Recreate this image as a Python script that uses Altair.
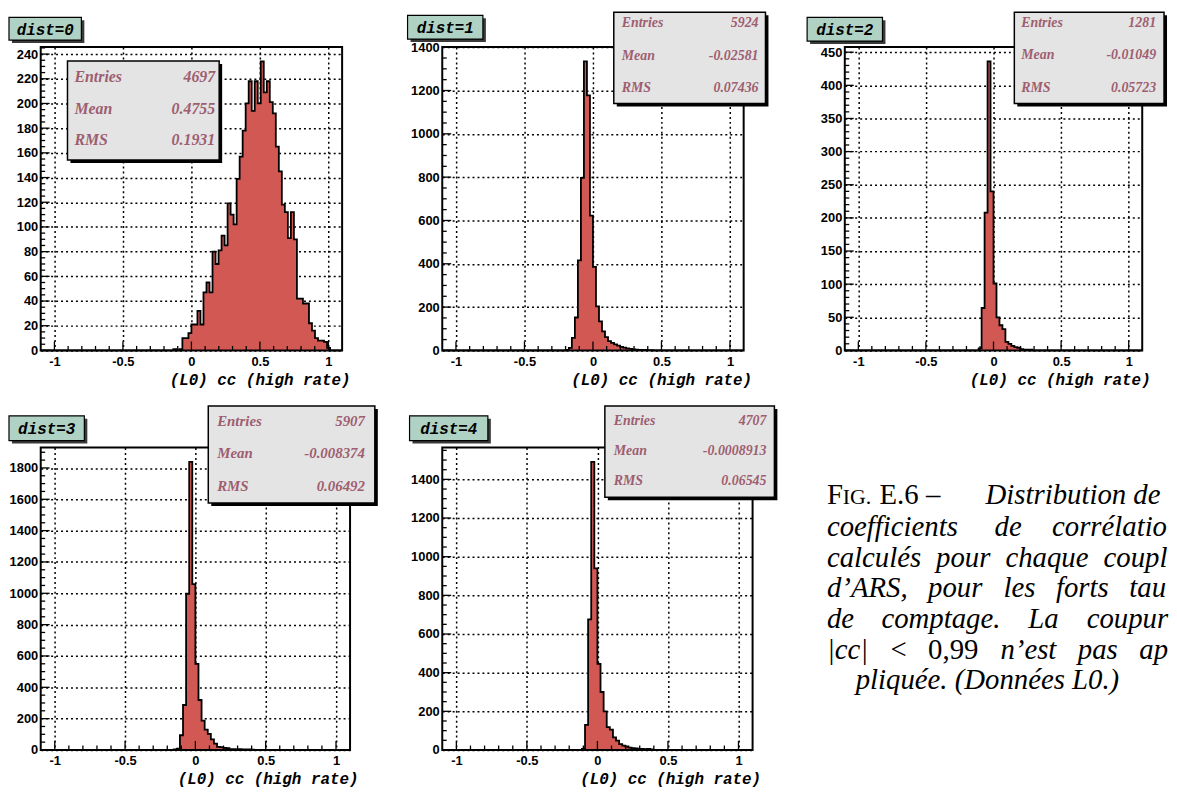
import altair as alt
import numpy as np
import pandas as pd

# ---------------- data ----------------
BIN_WIDTH = 0.022
X_MIN, X_MAX = -1.1, 1.1
N_BINS = 100

panel_titles = ["dist=0", "dist=1", "dist=2", "dist=3", "dist=4"]
first_edges = [-0.132, -0.198, -0.110, -0.154, -0.110]

counts_dist0 = [1, 0, 1, 10, 10, 14, 21, 21, 32, 21, 47, 55, 47, 80, 70, 81, 93, 85,
                119, 110, 102, 139, 157, 178, 200, 218, 194, 218, 200, 234, 209, 218,
                201, 192, 165, 145, 118, 112, 91, 112, 90, 42, 42, 38, 38, 22, 16, 10,
                8, 8, 7, 2]
counts_dist1 = [3, 12, 58, 152, 416, 797, 1334, 1178, 622, 386, 203, 134, 88, 61, 43,
                35, 28, 22, 16, 13, 9, 7, 5, 4, 3, 2, 2, 1, 1]
counts_dist2 = [3, 64, 208, 436, 240, 101, 50, 38, 32, 13, 10, 7, 5, 4, 2, 1, 1, 1]
counts_dist3 = [3, 8, 94, 287, 997, 1838, 1058, 550, 319, 187, 130, 103, 68, 40, 20, 18,
                14, 12, 6, 5, 4, 6, 4, 3, 4, 2]
counts_dist4 = [5, 130, 676, 1490, 940, 446, 300, 200, 118, 105, 65, 48, 30, 22, 18, 12,
                10, 8, 6, 5, 4, 5, 3, 1]
all_counts = [counts_dist0, counts_dist1, counts_dist2, counts_dist3, counts_dist4]

stat_names = ["Entries", "Mean", "RMS"]
entries = ["4697", "5924", "1281", "5907", "4707"]
means = ["0.4755", "-0.02581", "-0.01049", "-0.008374", "-0.0008913"]
rms_values = ["0.1931", "0.07436", "0.05723", "0.06492", "0.06545"]

x_tick_values = [-1, -0.5, 0, 0.5, 1]
x_minor_values = [-0.9, -0.8, -0.7, -0.6, -0.4, -0.3, -0.2, -0.1,
                  0.1, 0.2, 0.3, 0.4, 0.6, 0.7, 0.8, 0.9]
y_label_steps = [20, 200, 50, 200, 200]
y_minor_steps = [5, 50, 10, 50, 50]
x_title = "(L0) cc (high rate)"

# ---------------- styles ----------------
HIST_FILL = "#d25854"
STAT_FILL = "#e4e4e4"
STAT_TEXT = "#9e5e70"
LABEL_FILL = "#b0d2c4"
TICK_FONT = "Liberation Sans"
MONO = "Liberation Mono"
SERIF = "Liberation Serif"

ONE = pd.DataFrame({"k": [0]})


def hist_frame(first_edge, counts):
    full = np.zeros(N_BINS)
    k0 = int(round((first_edge - X_MIN) / BIN_WIDTH))
    full[k0:k0 + len(counts)] = counts
    edges = np.round(X_MIN + np.arange(N_BINS + 1) * BIN_WIDTH, 4)
    return pd.DataFrame({"x": edges, "y": np.append(full, 0.0)})


def box(x1, x2, y1, y2, **style):
    return alt.Chart(ONE).mark_rect(**style).encode(
        x=alt.value(x1), x2=alt.value(x2), y=alt.value(y1), y2=alt.value(y2))


def txt(text, x, y, **style):
    return alt.Chart(ONE).mark_text(text=text, **style).encode(
        x=alt.value(x), y=alt.value(y))


def panel(i, W, H, sbox, srows, sleft, sright, sfont, lbox, extra=()):
    df = hist_frame(first_edges[i], all_counts[i])
    ymax = float(df["y"].max()) * 1.05
    xs = alt.Scale(domain=[X_MIN, X_MAX], nice=False, zero=False)
    ys = alt.Scale(domain=[0, ymax], nice=False, zero=False)
    step = y_label_steps[i]
    y_major = [float(v) for v in range(0, int(ymax) + 1, step)]
    y_minor = [float(v) for v in range(0, int(ymax) + 1, y_minor_steps[i]) if v % step != 0]

    xaxis = alt.Axis(values=x_tick_values, labelExpr="'' + datum.value",
                     grid=True, gridDash=[2, 3], gridColor="black", gridWidth=1.5,
                     gridOpacity=1, ticks=False, domain=False, labelFlush=False,
                     labelOverlap=False, labelFont=TICK_FONT, labelFontWeight="bold",
                     labelFontSize=13, labelColor="black", labelPadding=5,
                     title=x_title, titleFont=MONO, titleFontSize=16,
                     titleFontStyle="italic", titleFontWeight="bold", titleColor="black",
                     titleAlign="right", titleAnchor="end", titleBaseline="alphabetic",
                     titleX=W + 8, titleY=34)
    yaxis = alt.Axis(values=y_major, labelExpr="'' + datum.value", grid=True,
                     gridDash=[2, 3], gridColor="black", gridWidth=1.5, gridOpacity=1,
                     ticks=False, domain=False, labelOverlap=False, labelFont=TICK_FONT,
                     labelFontWeight="bold", labelFontSize=13, labelColor="black",
                     labelPadding=3, title=None)

    X = lambda: alt.X("x:Q", scale=xs, axis=xaxis)
    Y = lambda: alt.Y("y:Q", scale=ys, axis=yaxis)

    fill = alt.Chart(df).mark_area(interpolate="step-after", color=HIST_FILL).encode(
        x=X(), y=Y())
    outline = alt.Chart(df).mark_line(interpolate="step-after", color="black",
                                      strokeWidth=1.8).encode(x=X(), y=Y())
    xt = alt.Chart(pd.DataFrame({"x": x_tick_values})).mark_rule(
        color="black", strokeWidth=1.3).encode(
        x=X(), y=alt.value(H), y2=alt.value(H - 9))
    xtm = alt.Chart(pd.DataFrame({"x": x_minor_values})).mark_rule(
        color="black", strokeWidth=1.3).encode(
        x=X(), y=alt.value(H), y2=alt.value(H - 4.5))
    yt = alt.Chart(pd.DataFrame({"y": y_major})).mark_rule(
        color="black", strokeWidth=1.3).encode(
        y=Y(), x=alt.value(0), x2=alt.value(9))
    ytm = alt.Chart(pd.DataFrame({"y": y_minor})).mark_rule(
        color="black", strokeWidth=1.3).encode(
        y=Y(), x=alt.value(0), x2=alt.value(4.5))
    frame = box(0, W, 0, H, fill="white", fillOpacity=0, stroke="black", strokeWidth=2)

    # stats box
    x1, x2, y1, y2 = sbox
    stats = [box(x1 + 3, x2 + 3, y1 + 3, y2 + 3, color="black"),
             box(x1, x2, y1, y2, fill=STAT_FILL, stroke="black", strokeWidth=1.5)]
    vals = [entries[i], means[i], rms_values[i]]
    for name, val, yy in zip(stat_names, vals, srows):
        style = dict(font=SERIF, fontSize=sfont, fontStyle="italic", fontWeight="bold",
                     color=STAT_TEXT, baseline="middle")
        stats.append(txt(name, sleft, yy, align="left", **style))
        stats.append(txt(val, sright, yy, align="right", **style))

    # title label box
    lx1, lx2, ly1, ly2 = lbox
    lab = [box(lx1 + 3, lx2 + 3, ly1 + 3, ly2 + 3, color="#3a3a3a"),
           box(lx1, lx2, ly1, ly2, fill=LABEL_FILL, stroke="black", strokeWidth=1.2),
           txt(panel_titles[i], (lx1 + lx2) / 2, (ly1 + ly2) / 2 + 1, align="center",
               baseline="middle", font=MONO, fontSize=16, fontStyle="italic",
               fontWeight="bold", color="black")]

    return alt.layer(fill, outline, xt, xtm, yt, ytm, frame, *stats, *lab, *extra
                     ).properties(width=W, height=H)


# ---------------- caption (attached to the dist=4 panel, cut at the page edge) ----------------
CAP_X0, CAP_Y0 = 445, 447          # page position of the dist=4 plot origin
S = 29
caption_parts = [
    # text, page x, page y, italic?, size
    ("F", 833, 495, False, S),
    ("IG.", 849, 497, False, 22),
    ("E.6", 886, 495, False, S),
    ("\u2013", 933, 495, False, S),
    ("Distribution de", 993, 495, True, S),
    ("coefficients", 833, 527, True, S),
    ("de", 1002, 527, True, S),
    ("corr\u00e9latio", 1060, 527, True, S),
    ("calcul\u00e9s", 833, 558, True, S),
    ("pour", 943, 558, True, S),
    ("chaque", 1013, 558, True, S),
    ("coupl", 1112, 558, True, S),
    ("d\u2019ARS,", 833, 589, True, S),
    ("pour", 935, 589, True, S),
    ("les", 1011, 589, True, S),
    ("forts", 1064, 589, True, S),
    ("tau", 1138, 589, True, S),
    ("de", 833, 620, True, S),
    ("comptage.", 888, 620, True, S),
    ("La", 1036, 620, True, S),
    ("coupur", 1095, 620, True, S),
    ("|cc|", 833, 651, True, S),
    ("<", 897, 651, False, S),
    ("0,99", 935, 651, False, S),
    ("n\u2019est", 1008, 651, True, S),
    ("pas", 1086, 651, True, S),
    ("ap", 1148, 651, True, S),
    ("pliqu\u00e9e. (Donn\u00e9es L0.)", 862, 682, True, S),
]
caption = []
for text, px, py, ital, size in caption_parts:
    style = dict(font=SERIF, fontSize=size, color="black", align="left",
                 baseline="middle")
    if ital:
        style["fontStyle"] = "italic"
    caption.append(txt(text, px - CAP_X0, py - CAP_Y0, **style))

# ---------------- panels ----------------
p0 = panel(0, 304, 306, (27, 180, 14, 114), (30, 63, 94), 34, 176, 16, (-32, 41, -30, -7))
p1 = panel(1, 304, 306, (173, 326, -35, 57), (-24, 9, 41), 181, 319, 14, (-35, 41, -32, -8))
p2 = panel(2, 300, 306, (171, 322, -35, 57), (-24, 8, 41), 178, 314, 14, (-38, 38, -30, -6))
p3 = panel(3, 312, 305, (169, 337, -42, 56), (-27, 6, 39), 178, 327, 15, (-32, 44, -32, -7))
p4 = panel(4, 313, 305, (164, 335, -42, 50), (-27, 3, 34), 173, 327, 14, (-33, 46, -32, -7),
           extra=caption)

chart = alt.concat(p0, p1, p2, p3, p4, columns=3, spacing={"row": 98, "column": 93},
                   bounds="flush").properties(padding=0, background="white"
                   ).configure_view(strokeWidth=0)

chart.save("out.html", embed_options={"renderer": "svg", "actions": False})
